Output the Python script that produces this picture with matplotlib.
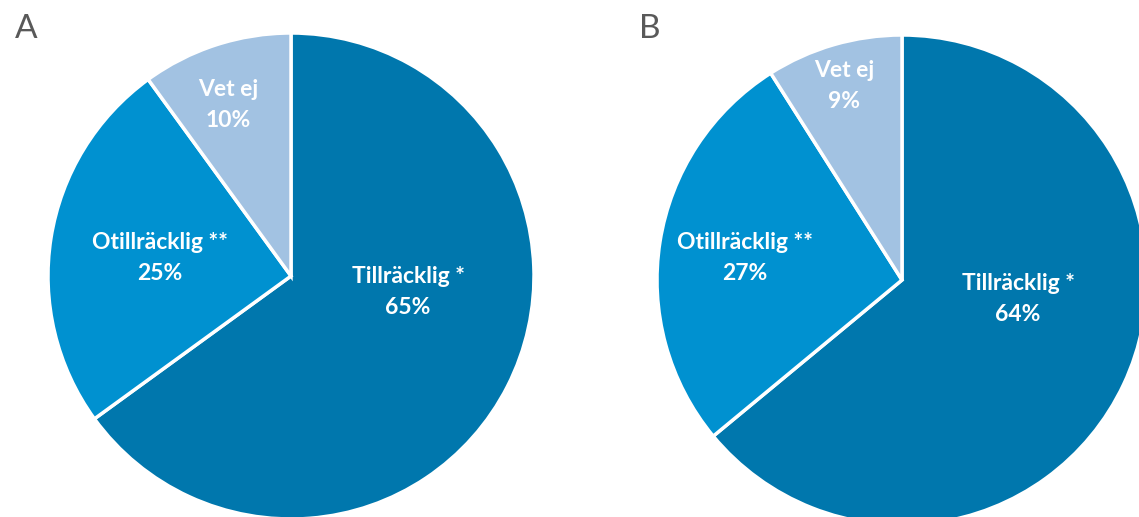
import matplotlib
matplotlib.use("Agg")
import matplotlib.pyplot as plt

categories = ["Tillräcklig *", "Otillräcklig **", "Vet ej"]
values_a = [65, 25, 10]
values_b = [64, 27, 9]
panel_titles = ["A", "B"]
colors = ["#0077AD", "#0091D0", "#A2C2E2"]

W, H = 1139, 517
fig = plt.figure(figsize=(W / 100, H / 100), dpi=100)
ax = fig.add_axes([0, 0, 1, 1])
ax.set_xlim(0, W)
ax.set_ylim(0, H)
ax.set_aspect("equal")
ax.axis("off")

# pie geometry (pixel coords, y measured upward)
centers = [(291, H - 276), (902, H - 280)]
radii = [243, 245]
# label anchors relative to center (pixels, y up)
label_offsets = [
    [(117, -16), (-131, 18), (-63, 171)],
    [(116, -19), (-157, 22), (-58, 194)],
]
title_pos = [(26, H - 29), (650, H - 29)]

for vals, c, r, offs, title, tp in zip([values_a, values_b], centers, radii,
                                       label_offsets, panel_titles, title_pos):
    ax.pie(vals, colors=colors, startangle=90, counterclock=False,
           center=c, radius=r, frame=True,
           wedgeprops=dict(edgecolor="white", linewidth=2.5))
    for cat, v, (dx, dy) in zip(categories, vals, offs):
        ax.text(c[0] + dx, c[1] + dy, f"{cat}\n{v}%", ha="center", va="center",
                color="white", fontsize=16.5, fontweight="bold", family="Lato",
                linespacing=1.6)
    ax.text(tp[0], tp[1], title, ha="center", va="center", fontsize=24,
            color="#595959", family="Lato")

ax.set_xlim(0, W)
ax.set_ylim(0, H)
ax.axis("off")
fig.savefig("out.png", dpi=100)
